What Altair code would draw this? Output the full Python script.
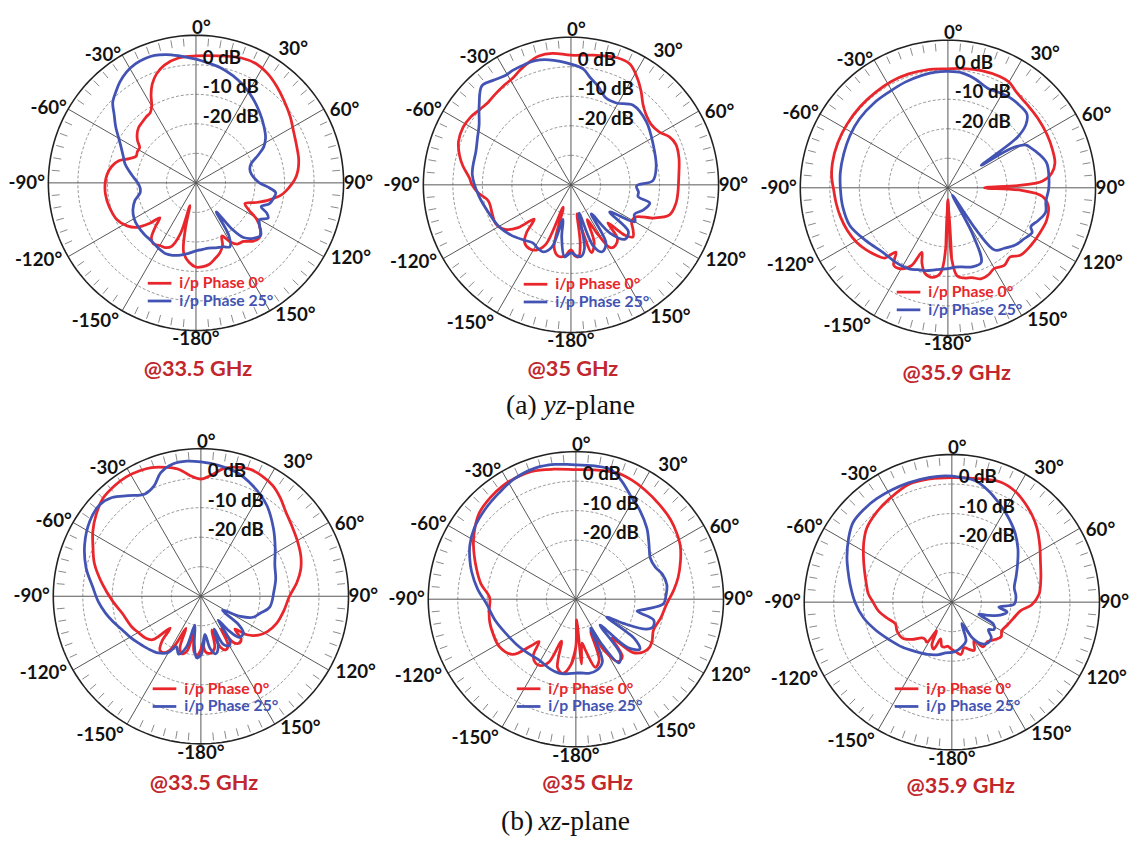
import altair as alt
import pandas as pd

# ------------------------------------------------------------------ data
# angles in degrees (0 = top, clockwise positive), values in dB
yz335_red_ang = [-180,-175,-170,-167,-165,-163,-159,-155,-150,-145,-141,-137,-134,-131,-127,-122,-115,-105,-97,-91,-85,-79,-74,-70,-66,-62,-58,-54,-50,-46,-42,-37,-33,-30,-27,-24,-20,-15,-8,0,10,20,27,33,40,47,55,62,70,77,83,88,93,98,103,108,113,117,121,126,131,136,141,146,150,154,157,161,166,171,176]
yz335_red_db = [-11.5,-13,-16,-24,-32,-22,-17,-15.8,-15.5,-14.8,-16,-20,-23,-19,-15,-12.5,-10.5,-9.5,-9.1,-9.2,-9.7,-10.9,-12.8,-16,-17.8,-17.5,-17.5,-15.5,-14,-13,-12.6,-12,-11.6,-10,-6.5,-3.5,-0.8,1.3,2.7,3.0,3.7,5.0,5.2,4.3,2.6,0.8,-1,-2.6,-3.7,-4.3,-5.2,-6.5,-8.5,-10.8,-14.5,-18.5,-22,-20,-16,-13,-11.6,-12.5,-14.5,-15,-17,-20,-17,-15,-13.5,-12,-11.5]
yz335_blue_ang = [-180,-174,-168,-162,-157,-150,-143,-135,-127,-120,-113,-106,-100,-95,-90,-85,-80,-75,-70,-65,-60,-55,-50,-46,-41,-37,-32,-27,-22,-18,-13,-8,-4,0,6,12,19,26,34,42,50,57,62,66,71,76,81,86,90,94,97,101,106,110,113,116,120,124,129,134,139,142,145,148,152,157,163,169,175]
yz335_blue_db = [-17,-16,-15,-14.2,-13.9,-14.5,-15.2,-15.3,-15.4,-15.8,-16.8,-18.5,-20.8,-21,-20.3,-18.8,-17,-15.1,-13.8,-12.1,-9.8,-6.8,-3.8,-0.8,1.2,2.8,4.3,5.2,5.5,5.4,4.6,3.5,2.6,1.9,0.8,-0.1,-1.6,-3.3,-5.5,-7.8,-10,-11.9,-14,-17,-20.3,-21.2,-21,-20,-18.5,-15,-12.8,-13.2,-14.2,-16.5,-14,-12.8,-15.1,-14,-11.8,-13,-15.5,-20,-28,-19,-15.5,-16.5,-17,-17.5,-17.3]

yz35_red_ang = [-180,-176,-170,-165,-161,-157,-152,-147,-141,-137,-133,-129,-124,-117,-110,-101,-95,-90,-86,-80,-75,-69,-62,-56,-50,-45,-40,-34,-29,-24,-19,-14,-8,0,10,20,26,32,37,42,47,53,59,64,69,76,86,95,100,107,112,116,121,126,130,133,136,139,144,148,152,155,158,163,166,168,171,174,177]
yz35_red_db = [-18,-16,-15.5,-18,-32,-18,-15,-14.2,-15,-18,-23,-17,-13,-11.3,-11.6,-11.5,-8.5,-6.5,-5.5,-2.8,-0.9,0.8,1.4,1,0,-0.4,0,0.6,1.1,2.5,3.9,5.0,5,3.9,4.6,5.8,5.5,2.5,-0.5,-3.5,-5.2,-6,-5.2,-2.9,-1.9,-2.3,-3.4,-3.7,-3.9,-5.1,-10,-15.3,-16,-14,-12.6,-15,-22,-16,-14.5,-14.9,-22,-27,-19,-16,-24,-30,-20,-15.5,-16]
yz35_blue_ang = [-180,-175,-170,-167,-163,-158,-152,-147,-140,-130,-120,-109,-97,-84,-70,-63,-57,-49,-42,-37,-31,-27,-21,-16,-10,-5,0,6,10,15,22,29,38,50,64,78,87,91,96,100,103,109,115,120,125,129,135,141,145,149,155,160,164,168,172,176]
yz35_blue_db = [-17,-15.5,-22,-28,-18,-15.5,-15.8,-16.5,-15.5,-13.5,-11.8,-10.6,-8.6,-6.4,-5.8,-4.5,-2.9,1.2,5.1,4.2,3.2,3.5,3.7,3.8,3.0,2,0.9,-0.5,-3,-5.2,-8.3,-8.3,-5.8,-6.7,-9,-10.5,-12.2,-17.8,-17,-16.9,-12.6,-14,-16.3,-15,-24,-15,-14,-19,-28,-17,-15,-18,-30,-18,-15.5,-16]

yz359_red_ang = [-180,-178,-175,-170,-165,-161,-158,-155,-150,-145,-141,-138,-133,-127,-121,-113,-105,-98,-91,-85,-78,-68,-58,-47,-37,-28,-19,-10,0,8,16,25,30,35,40,44,52,62,70,77,82,86,88,90,92,95,100,108,116,125,133,138,144,150,155,160,165,170,174,177]
yz359_red_db = [-36,-20,-11,-9.2,-10,-13,-16.4,-11,-8.3,-8,-12,-8,-6.6,-5.2,-4,-3,-2.3,-1.8,-1.3,-0.5,0,0.3,0.4,0.5,0.6,0.8,0.8,0.6,0.3,0.8,1.3,1.6,1.4,0,-0.8,-1.1,-1.5,-1.9,-2.3,-2.8,-4.5,-8,-15,-27.6,-15,-8,-5.5,-4.8,-5.3,-5.8,-6.5,-8.5,-7.5,-8.5,-7.5,-7.2,-8.5,-9,-10,-16]
yz359_blue_ang = [-180,-172,-165,-160,-155,-145,-135,-123,-111,-100,-91,-82,-72,-62,-52,-41,-31,-22,-13,-6,0,7,14,22,29,35,41,47,51,54,56,58,61,64,70,76,84,91,98,104,110,115,118,124,130,137,143,146,149,152,156,163,170,175]
yz359_blue_db = [-12.6,-12,-11,-10.5,-9.6,-9.2,-9,-7,-4.4,-3.8,-3.6,-3.2,-2.9,-2.4,-2,-1.9,-1.9,-1.4,-0.9,-0.6,-0.6,-0.8,-2,-3.7,-3.3,-2.9,-3,-3.4,-6,-11,-26.4,-15,-10,-8.9,-7,-5.5,-5.6,-5.9,-6.5,-5.9,-7.5,-9,-7.7,-9,-10,-12,-13.6,-22,-37,-22,-12.3,-12,-12.8,-13]

xz335_red_ang = [-180,-177,-173,-169,-166,-162,-158,-155,-152,-148,-143,-139,-136,-132,-127,-120,-114,-102,-93,-83,-73,-66,-59,-52,-45,-38,-32,-26,-21,-15,-10,-5,0,5,10,15,21,27,33,39,45,52,60,68,75,82,90,100,110,118,124,130,134,137,141,145,148,151,155,159,162,165,170,175,178]
xz335_red_db = [-22,-20,-21,-27,-21,-19.5,-21,-28,-21,-17.5,-17,-20,-25,-18,-16.5,-15.5,-14.4,-12.7,-10,-6.4,-2.3,0,2.7,5,6.9,7.5,7.7,7.3,6.7,5.2,3.7,1,-0.3,1.2,3.9,5.3,6.1,5.7,4.7,2.8,0.6,-1,-2.3,-3.5,-5,-7.2,-10,-11.5,-12.8,-14.5,-16.5,-19.7,-24,-20,-19.5,-21,-27,-21,-20,-21.5,-28,-22,-20.5,-21,-24]
xz335_blue_ang = [-180,-176,-172,-168,-164,-159,-154,-150,-143,-135,-127,-120,-113,-106,-100,-93,-85,-76,-66,-56,-48,-42,-36,-29,-23,-18,-12,-6,0,8,16,25,36,47,57,67,77,86,99,106,112,117,123,127,131,137,141,144,147,150,155,158,161,165.6,170,174]
xz335_blue_db = [-20,-19.1,-24,-30,-22,-19,-21,-18,-16,-14.8,-13.6,-12.3,-11,-9,-7.2,-5.2,-3.2,0.1,3.1,5.4,6.2,5,2.1,-0.5,0.6,4,5.8,6,5.5,4.7,3.7,1.4,-2,-6.4,-10,-12.8,-14,-15.2,-16.4,-19.1,-21,-25,-31.3,-24,-20.9,-21,-25,-30,-22,-20.7,-22,-28,-22,-19.9,-22,-27]

xz35_red_ang = [-180,-176,-170,-165,-161,-157,-152,-148,-143,-139,-136,-131,-122,-112,-105,-98,-89,-81,-73,-62,-55,-48,-40,-33,-26,-19,-10,0,8,18,25,32,41,50,57,63,70,78,85,93,102,112,118,123,128,133,137,141,146,151,155,159,164,169,172,175,178]
xz35_red_db = [-24,-18,-14.5,-16,-25,-17,-14.5,-14.4,-16,-21,-18,-11.5,-9.5,-9.6,-9.8,-10.3,-10.8,-7.5,-4.8,-0.7,1.8,3.9,5,5.7,5.9,5.8,4.7,3.9,4.2,5.0,4.6,3.8,2.8,1.9,0.8,-0.3,-2.3,-4.6,-6.8,-9.2,-10.5,-11.7,-10.7,-10.2,-11,-13.5,-22,-15,-14.5,-20,-28,-18,-16,-22,-25,-18,-33]
xz35_blue_ang = [-180,-172,-167,-160,-149,-138,-127,-116,-105,-93,-84,-75,-69,-63,-55,-45,-36,-27,-17,-9,-2,8,15,21,28,36,45,53,61,68,74,81,88,93,98,101,105,110,113,117,120,124,128,133,137,141,146,150,153,157,163,170,176]
xz35_blue_db = [-15,-14.5,-14.3,-14.8,-15.9,-15.5,-14.7,-13.6,-11.8,-9.7,-6.5,-3.4,-1.5,0.3,2,3.3,4.4,5.8,6.5,6.2,5.6,5.6,5.5,3,-0.4,-3,-6,-9,-11.2,-11,-9.5,-8.8,-9.5,-10.3,-16,-18.9,-12.7,-12.3,-14,-22,-28,-16,-12.5,-16,-28,-16,-14,-22,-29,-17,-15,-14.5,-15]

xz359_red_ang = [-180,-175,-170,-167,-163,-159,-155,-152,-148,-144,-140,-133,-126,-118,-111,-104,-97,-90,-84,-78,-70,-63,-56,-49,-40,-31,-20,-10,0,10,22,30,36,43,49,57,65,75,85,92,97,105,112,120,125,131,138,145,150,155,160,165,170,175]
xz359_red_db = [-24,-25,-24.5,-24.7,-27,-23,-24,-29,-24,-24.5,-24.2,-21.5,-19.3,-19,-19.5,-17.5,-15,-13.3,-11.5,-10.4,-8.5,-6.4,-4,-1.8,-0.3,0.9,2.5,2.4,2.2,2.6,3.9,3.2,1.8,0,-1.8,-4.5,-6.9,-8.8,-10.4,-13,-16.5,-18.5,-19.6,-20.5,-19.6,-20.7,-22,-21.5,-25,-22,-23,-24,-22,-23]
xz359_blue_ang = [-180,-173,-166,-155,-144,-132,-121,-110,-100,-90,-80,-73,-67,-58,-51,-43,-36,-28,-20,-10,-3,4,11,18,25,33,42,51,60,68,77,85,92,96,100,105,110,114,118,123,127,132,138,144,150,155,160,167,174]
xz359_blue_db = [-23,-22.7,-21.7,-20.5,-19.3,-17.3,-15.3,-12.5,-9.6,-7.2,-5,-3.2,-1.4,1.2,3,3.3,3.3,3.1,3,2.9,2.8,2.4,1.9,-0.2,-2.7,-5.3,-8.1,-11.2,-14.3,-16.5,-18.3,-18.2,-18.9,-24,-21,-23,-27,-30,-24,-23,-24.5,-22,-21.5,-22.5,-26,-32,-26,-24.6,-23.5]

panel_titles = ["@33.5 GHz", "@35 GHz", "@35.9 GHz", "@33.5 GHz", "@35 GHz", "@35.9 GHz"]
series_names = ["i/p Phase 0\u00b0", "i/p Phase 25\u00b0"]
angle_labels = ["0\u00b0", "30\u00b0", "60\u00b0", "90\u00b0", "120\u00b0", "150\u00b0",
                "-180\u00b0", "-150\u00b0", "-120\u00b0", "-90\u00b0", "-60\u00b0", "-30\u00b0"]
ring_db = [-30, -20, -10, 0]
ring_labels = ["0 dB", "-10 dB", "-20 dB"]
ring_label_db = [0, -10, -20]
captions = [("(a) ", "yz", "-plane"), ("(b) ", "xz", "-plane")]

# ------------------------------------------------------------------ layout
CX = [192, 573, 956, 197, 578, 960]
CY = [179, 181, 184, 599, 602, 605]
TX = [194, 575, 965, 200, 590, 969]
TY = [368, 368, 372, 789, 789, 792]
LEG_X = [-49, -48, -52, -49, -60, -58]
LEG_DY = [102, 101, 106, 94, 91, 88]
PX_PER_DB = 3.0
R_OUT = 150
LBL_R = [157, 168, 168, 165, 175, 168, 159, 174, 178, 172, 168, 161]
LBL_OFF = [2, 6, 4, 0, -4, -7, 0, 6, 4, 0, -3, -6]
RED = "#e8262b"
BLUE = "#4353b3"
TITLE_RED = "#c1272d"
FONT = "Lato"

pairs = [(yz335_red_ang, yz335_red_db, yz335_blue_ang, yz335_blue_db),
         (yz35_red_ang, yz35_red_db, yz35_blue_ang, yz35_blue_db),
         (yz359_red_ang, yz359_red_db, yz359_blue_ang, yz359_blue_db),
         (xz335_red_ang, xz335_red_db, xz335_blue_ang, xz335_blue_db),
         (xz35_red_ang, xz35_red_db, xz35_blue_ang, xz35_blue_db),
         (xz359_red_ang, xz359_red_db, xz359_blue_ang, xz359_blue_db)]

rows = []
for s_idx, sname in enumerate(["red", "blue"]):
    for p, pr in enumerate(pairs):
        angs, dbs = pr[2 * s_idx], pr[2 * s_idx + 1]
        pts = sorted(zip(angs, dbs))
        pts = [(pts[-1][0] - 360, pts[-1][1])] + pts + [(pts[0][0] + 360, pts[0][1]), (pts[1][0] + 360, pts[1][1])]
        for i, (a, d) in enumerate(pts):
            rows.append(dict(key=f"{p}-{sname}", s=sname, i=i, ang=a, db=d, cx=CX[p], cy=CY[p]))
pattern = pd.DataFrame(rows)

grid_rows = []
for p in range(6):
    for rd in ring_db:
        for a in range(0, 362, 2):
            grid_rows.append(dict(key=f"{p}-{rd}", i=a, ang=a, rr=(rd + 40) * PX_PER_DB, cx=CX[p], cy=CY[p]))
grid = pd.DataFrame(grid_rows)
outer = pd.DataFrame([dict(key=f"{p}", i=a, ang=a, rr=R_OUT, cx=CX[p], cy=CY[p])
                      for p in range(6) for a in range(0, 362, 2)])
spokes = pd.DataFrame([dict(ang=a, r1=0, r2=R_OUT, cx=CX[p], cy=CY[p])
                       for p in range(6) for a in range(0, 360, 30)])
ticks = pd.DataFrame([dict(ang=a, r1=139, r2=147, cx=CX[p], cy=CY[p])
                      for p in range(6) for a in range(0, 360, 5) if a % 30 != 0])
lbl_angles = [0, 30, 60, 90, 120, 150, 180, 210, 240, 270, 300, 330]
alabels = pd.DataFrame([dict(t=angle_labels[k], ang=lbl_angles[k] + LBL_OFF[k], rr=LBL_R[k], cx=CX[p], cy=CY[p])
                        for p in range(6) for k in range(12)])
dblabels = pd.DataFrame([dict(t=ring_labels[k], x=CX[p] + 7, y=CY[p] - (ring_label_db[k] + 40) * PX_PER_DB - 7)
                         for p in range(6) for k in range(3)])
titles = pd.DataFrame([dict(t=panel_titles[p], x=TX[p], y=TY[p]) for p in range(6)])
legend_lines = pd.DataFrame([dict(s=["red", "blue"][k], x=CX[p] + LEG_X[p], x2=CX[p] + LEG_X[p] + 24,
                                  y=CY[p] + LEG_DY[p] + 18 * k) for p in range(6) for k in range(2)])
legend_text = pd.DataFrame([dict(s=["red", "blue"][k], t=series_names[k], x=CX[p] + LEG_X[p] + 32,
                                 y=CY[p] + LEG_DY[p] + 18 * k) for p in range(6) for k in range(2)])

XS = alt.Scale(domain=[8, 1129], nice=False, zero=False)
YS = alt.Scale(domain=[8, 837], nice=False, zero=False, reverse=True)
color = alt.Color("s:N", scale=alt.Scale(domain=["red", "blue"], range=[RED, BLUE]), legend=None)


def polar(chart, rfield="rr"):
    return chart.transform_calculate(
        px=f"datum.cx + datum.{rfield}*sin(datum.ang*PI/180)",
        py=f"datum.cy - datum.{rfield}*cos(datum.ang*PI/180)")


ring_layer = polar(alt.Chart(grid)).mark_line(color="#8a8a8a", strokeWidth=0.9, strokeDash=[3, 2]).encode(
    x=alt.X("px:Q", scale=XS, axis=None), y=alt.Y("py:Q", scale=YS, axis=None),
    detail="key:N", order="i:Q")
outer_layer = polar(alt.Chart(outer)).mark_line(color="#222222", strokeWidth=1.6).encode(
    x=alt.X("px:Q", scale=XS, axis=None), y=alt.Y("py:Q", scale=YS, axis=None),
    detail="key:N", order="i:Q")


def radial(df, col, w):
    return alt.Chart(df).transform_calculate(
        xa="datum.cx + datum.r1*sin(datum.ang*PI/180)",
        ya="datum.cy - datum.r1*cos(datum.ang*PI/180)",
        xb="datum.cx + datum.r2*sin(datum.ang*PI/180)",
        yb="datum.cy - datum.r2*cos(datum.ang*PI/180)").mark_rule(color=col, strokeWidth=w).encode(
        x=alt.X("xa:Q", scale=XS, axis=None), y=alt.Y("ya:Q", scale=YS, axis=None),
        x2="xb:Q", y2="yb:Q")


spoke_layer = radial(spokes, "#555555", 1.0)
tick_layer = radial(ticks, "#888888", 1.0)

curve_layer = alt.Chart(pattern).transform_calculate(
    rr="max(0, (datum.db + 40) * 3)").transform_calculate(
    px="datum.cx + datum.rr*sin(datum.ang*PI/180)",
    py="datum.cy - datum.rr*cos(datum.ang*PI/180)").mark_line(
    strokeWidth=2.8, interpolate="catmull-rom").encode(
    x=alt.X("px:Q", scale=XS, axis=None), y=alt.Y("py:Q", scale=YS, axis=None),
    detail="key:N", order="i:Q", color=color)

alabel_layer = polar(alt.Chart(alabels)).mark_text(font=FONT, fontSize=19, fontWeight="bold", color="#111111").encode(
    x=alt.X("px:Q", scale=XS, axis=None), y=alt.Y("py:Q", scale=YS, axis=None), text="t:N")
dblabel_layer = alt.Chart(dblabels).mark_text(font=FONT, fontSize=19, fontWeight="bold", color="#111111",
                                              align="left").encode(
    x=alt.X("x:Q", scale=XS, axis=None), y=alt.Y("y:Q", scale=YS, axis=None), text="t:N")
title_layer = alt.Chart(titles).mark_text(font=FONT, fontSize=22, fontWeight="bold", color=TITLE_RED).encode(
    x=alt.X("x:Q", scale=XS, axis=None), y=alt.Y("y:Q", scale=YS, axis=None), text="t:N")
leg_line_layer = alt.Chart(legend_lines).mark_rule(strokeWidth=2.8).encode(
    x=alt.X("x:Q", scale=XS, axis=None), x2="x2:Q", y=alt.Y("y:Q", scale=YS, axis=None), color=color)
leg_text_layer = alt.Chart(legend_text).mark_text(font=FONT, fontSize=16, fontWeight="bold", align="left").encode(
    x=alt.X("x:Q", scale=XS, axis=None), y=alt.Y("y:Q", scale=YS, axis=None), text="t:N", color=color)

cap_rows = []
CAP_X = [507, 502]
CAP_Y = [406, 828]
for k, (a, b, c) in enumerate(captions):
    cap_rows.append(dict(t=a, x=CAP_X[k], y=CAP_Y[k], st="normal"))
    cap_rows.append(dict(t=b, x=CAP_X[k] + 38, y=CAP_Y[k], st="italic"))
    cap_rows.append(dict(t=c, x=CAP_X[k] + 61, y=CAP_Y[k], st="normal"))
capdf = pd.DataFrame(cap_rows)
cap_normal = alt.Chart(capdf[capdf.st == "normal"]).mark_text(font="Liberation Serif", fontSize=28, align="left",
                                                              color="#111111").encode(
    x=alt.X("x:Q", scale=XS, axis=None), y=alt.Y("y:Q", scale=YS, axis=None), text="t:N")
cap_italic = alt.Chart(capdf[capdf.st == "italic"]).mark_text(font="Liberation Serif", fontSize=28, align="left",
                                                              fontStyle="italic", color="#111111").encode(
    x=alt.X("x:Q", scale=XS, axis=None), y=alt.Y("y:Q", scale=YS, axis=None), text="t:N")

chart = alt.layer(ring_layer, tick_layer, spoke_layer, outer_layer, curve_layer,
                  alabel_layer, dblabel_layer, title_layer, leg_line_layer, leg_text_layer,
                  cap_normal, cap_italic).properties(
    width=1121, height=829, padding=0, background="white").configure_view(stroke=None)

chart.save("out.html", embed_options={"renderer": "svg", "actions": False})
